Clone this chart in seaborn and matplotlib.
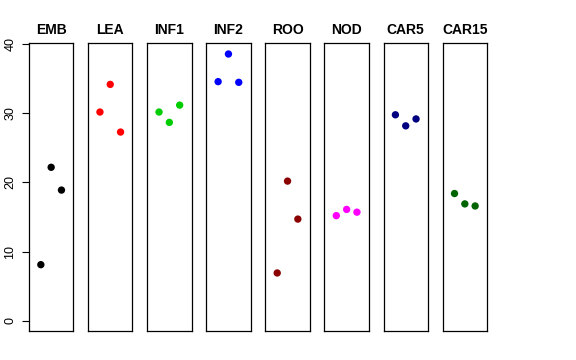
import pandas as pd
import seaborn as sns
import matplotlib.pyplot as plt

# values, three replicates per tissue
tissues = ['EMB', 'LEA', 'INF1', 'INF2', 'ROO', 'NOD', 'CAR5', 'CAR15']
emb = [8.1, 22.2, 18.9]
lea = [30.2, 34.2, 27.3]
inf1 = [30.2, 28.7, 31.2]
inf2 = [34.6, 38.6, 34.5]
roo = [6.9, 20.2, 14.7]
nod = [15.2, 16.1, 15.7]
car5 = [29.8, 28.2, 29.2]
car15 = [18.4, 16.9, 16.6]
colors = ['black', 'red', '#00CD00', 'blue', '#8B0000', 'magenta', '#000080', '#006400']
replicate = [1, 2, 3]

values = [emb, lea, inf1, inf2, roo, nod, car5, car15]
data = pd.DataFrame({
    'tissue': [t for t in tissues for _ in replicate],
    'rep': replicate * len(tissues),
    'value': [v for vals in values for v in vals],
})

plt.rcParams['font.family'] = ['Liberation Sans', 'DejaVu Sans']

fig, axes = plt.subplots(1, len(tissues), figsize=(5.76, 3.6), dpi=100, sharey=True)
fig.subplots_adjust(left=0.0503, right=0.8455, top=0.8797, bottom=0.0806, wspace=0.332)

for ax, tissue, col in zip(axes, tissues, colors):
    sub = data[data['tissue'] == tissue]
    sns.scatterplot(data=sub, x='rep', y='value', color=col, s=28, edgecolor='none', ax=ax)
    ax.set_xlim(-0.15, 4.15)
    ax.set_ylim(-1.5, 40.15)
    ax.set_xticks([])
    ax.set_xlabel('')
    ax.set_ylabel('')
    ax.set_title(tissue, fontsize=10, fontweight='bold', pad=7)
    for sp in ax.spines.values():
        sp.set_color('black')
        sp.set_linewidth(0.9)
    ax.tick_params(axis='y', length=0, labelleft=False)

axes[0].set_yticks([0, 10, 20, 30, 40])
axes[0].tick_params(axis='y', length=5, width=0.8, direction='out', pad=4,
                    labelleft=True, labelsize=9, labelrotation=90)
for lab in axes[0].get_yticklabels():
    lab.set_va('center')

plt.savefig('out.png', dpi=100)
